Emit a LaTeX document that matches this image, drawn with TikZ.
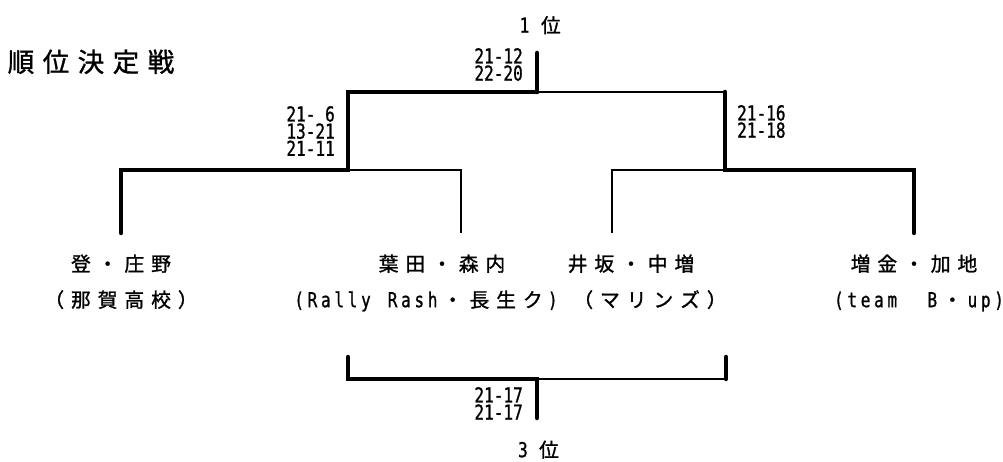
\documentclass[tikz,border=0pt]{standalone}
\usepackage{fontspec}
\newfontfamily\jpfont[FakeBold=1.2]{Noto Sans CJK JP}
\newfontfamily\scorefont[FakeStretch=0.78,FakeBold=1.0]{DejaVu Sans Mono}
\newcommand\jfull[1]{\makebox[26.7pt]{#1}}
\newcommand\jhalf[1]{\makebox[13.35pt]{\scorefont\fontsize{20.6}{20}\selectfont #1}}
\newcommand\tcell[1]{\makebox[35pt]{#1}}
\begin{document}
\begin{tikzpicture}[x=1pt,y=-1pt,
  win/.style={line width=4.5pt, line cap=round},
  lose/.style={line width=1.8pt},
  plname/.style={inner sep=0pt, anchor=center, text height=15.8pt, text depth=1.4pt,
    font=\jpfont\fontsize{19.8}{20}\selectfont},
  titlenode/.style={inner sep=0pt, anchor=center, text height=21.5pt, text depth=1.9pt,
    font=\jpfont\fontsize{26.5}{27}\selectfont},
  scoreR/.style={inner sep=0pt, align=right, anchor=north east,
    font=\scorefont\fontsize{20.6}{17.2}\selectfont},
  scoreL/.style={inner sep=0pt, align=left, anchor=north west,
    font=\scorefont\fontsize{20.6}{17.2}\selectfont}]
\useasboundingbox (0,0) rectangle (1003,462);

% junctions
\coordinate (top) at (537,53);
\coordinate (f)   at (537,92);
\coordinate (fL)  at (348,92);
\coordinate (fR)  at (725,92);
\coordinate (sL)  at (348,170);
\coordinate (sR)  at (725,170);
\coordinate (a)   at (121,170);
\coordinate (aE)  at (121,233);
\coordinate (b)   at (461,170);
\coordinate (bE)  at (461,233);
\coordinate (c)   at (612,170);
\coordinate (cE)  at (612,233);
\coordinate (d)   at (914,170);
\coordinate (dE)  at (914,233);
\coordinate (tL)  at (348,379);
\coordinate (tLE) at (348,357);
\coordinate (tR)  at (726,379);
\coordinate (tRE) at (726,357);
\coordinate (t)   at (537,379);
\coordinate (tB)  at (537,418);

% bracket lines
\draw[lose] (sL) -- (b) -- (bE);
\draw[lose] (cE) -- (c) -- (sR);
\draw[lose] (f) -- (fR);
\draw[lose] (t) -- (tR);
\draw[win] (aE) -- (a) -- (sL) -- (fL) -- (f);
\draw[win] (dE) -- (d) -- (sR) -- (fR);
\draw[win] (top) -- (f);
\draw[win] (tLE) -- (tL) -- (t) -- (tB);
\draw[win] (tR) -- (tRE);

% title and places
\node[titlenode] (title) at (91,62) {\tcell{順}\tcell{位}\tcell{決}\tcell{定}\tcell{戦}};
\node[plname] (first) at (541,25.5) {\jhalf{1}\hspace{6.45pt}\jfull{位}};
\node[plname] (third) at (539.3,450) {\jhalf{3}\hspace{6pt}\jfull{位}};

% scores
\node[scoreR] (s1) at (523,48) {21-12\\22-20};
\node[scoreR] (s2) at (335,106) {21-\phantom{0}6\\13-21\\21-11};
\node[scoreL] (s3) at (737,105) {21-16\\21-18};
\node[scoreR] (s4) at (523,387) {21-17\\21-17};

% players
\node[plname] (p1) at (121,264) {\jfull{登}\jfull{・}\jfull{庄}\jfull{野}};
\node[plname] (p1t) at (121,300) {\jfull{（}\jfull{那}\jfull{賀}\jfull{高}\jfull{校}\jfull{）}};
\node[plname] (p2) at (442,264) {\jfull{葉}\jfull{田}\jfull{・}\jfull{森}\jfull{内}};
\node[plname] (p2t) at (426,300) {\jhalf{(}\jhalf{R}\jhalf{a}\jhalf{l}\jhalf{l}\jhalf{y}\jhalf{}\jhalf{R}\jhalf{a}\jhalf{s}\jhalf{h}\jfull{・}\jfull{長}\jfull{生}\jfull{ク}\jhalf{)}};
\node[plname] (p3) at (631,264) {\jfull{井}\jfull{坂}\jfull{・}\jfull{中}\jfull{増}};
\node[plname] (p3t) at (650,300) {\jfull{（}\jfull{マ}\jfull{リ}\jfull{ン}\jfull{ズ}\jfull{）}};
\node[plname] (p4) at (914,264) {\jfull{増}\jfull{金}\jfull{・}\jfull{加}\jfull{地}};
\node[plname] (p4t) at (919,300) {\jhalf{(}\jhalf{t}\jhalf{e}\jhalf{a}\jhalf{m}\jhalf{}\jhalf{}\jhalf{B}\jfull{・}\jhalf{u}\jhalf{p}\jhalf{)}};
\end{tikzpicture}
\end{document}
